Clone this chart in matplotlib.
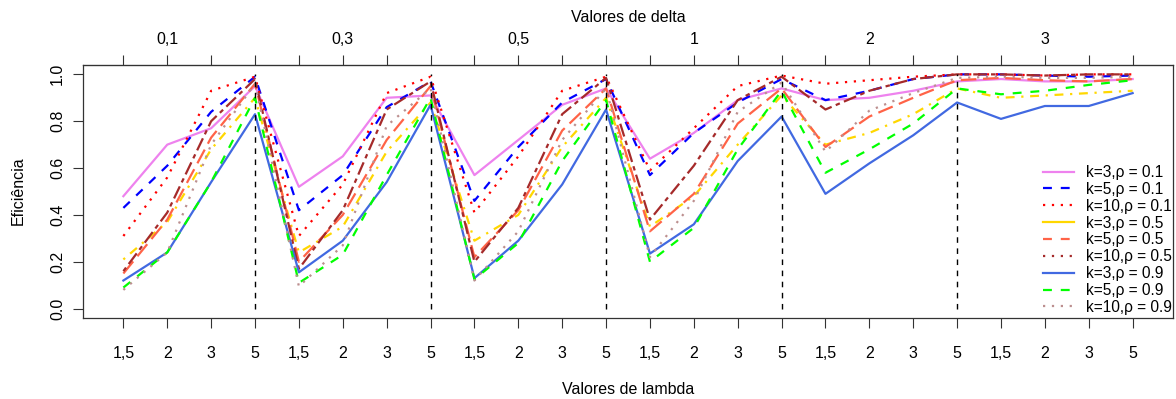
import matplotlib.pyplot as plt
from matplotlib.lines import Line2D
import numpy as np

plt.rcParams['font.family'] = ['Liberation Sans', 'DejaVu Sans']

# x axis: 6 delta groups, 4 lambda values each
lambda_labels = ["1,5", "2", "3", "5"] * 6
delta_labels = ["0,1", "0,3", "0,5", "1", "2", "3"]

series_labels = ["k=3,ρ = 0.1", "k=5,ρ = 0.1", "k=10,ρ = 0.1",
                 "k=3,ρ = 0.5", "k=5,ρ = 0.5", "k=10,ρ = 0.5",
                 "k=3,ρ = 0.9", "k=5,ρ = 0.9", "k=10,ρ = 0.9"]

k3_r01 = [0.48, 0.70, 0.77, 0.95, 0.52, 0.65, 0.90, 0.91, 0.57, 0.72, 0.87, 0.94,
          0.64, 0.75, 0.89, 0.94, 0.89, 0.90, 0.93, 0.97, 0.98, 0.97, 0.97, 0.98]
k5_r01 = [0.43, 0.61, 0.84, 0.99, 0.42, 0.57, 0.86, 0.97, 0.46, 0.69, 0.88, 0.98,
          0.57, 0.75, 0.88, 0.98, 0.89, 0.93, 0.98, 1.00, 1.00, 0.995, 0.99, 0.995]
k10_r01 = [0.31, 0.56, 0.93, 0.99, 0.31, 0.53, 0.92, 0.99, 0.41, 0.65, 0.93, 0.99,
           0.59, 0.77, 0.95, 0.995, 0.96, 0.975, 0.99, 1.00, 1.00, 0.995, 1.00, 1.00]
k3_r05 = [0.21, 0.37, 0.68, 0.90, 0.24, 0.35, 0.67, 0.88, 0.29, 0.40, 0.69, 0.90,
          0.35, 0.48, 0.70, 0.91, 0.70, 0.75, 0.83, 0.94, 0.90, 0.91, 0.92, 0.93]
k5_r05 = [0.15, 0.38, 0.73, 0.96, 0.20, 0.40, 0.72, 0.95, 0.22, 0.42, 0.76, 0.94,
          0.33, 0.49, 0.79, 0.94, 0.69, 0.82, 0.90, 0.975, 0.985, 0.975, 0.97, 0.98]
k10_r05 = [0.16, 0.41, 0.80, 0.98, 0.17, 0.42, 0.85, 0.97, 0.20, 0.43, 0.83, 0.985,
           0.38, 0.61, 0.89, 0.99, 0.85, 0.93, 0.98, 1.00, 1.00, 0.995, 1.00, 1.00]
k3_r09 = [0.12, 0.24, 0.54, 0.83, 0.155, 0.29, 0.54, 0.87, 0.13, 0.29, 0.53, 0.85,
          0.235, 0.36, 0.63, 0.82, 0.49, 0.62, 0.74, 0.88, 0.81, 0.865, 0.865, 0.92]
k5_r09 = [0.09, 0.24, 0.54, 0.90, 0.11, 0.23, 0.57, 0.90, 0.125, 0.28, 0.63, 0.89,
          0.20, 0.345, 0.68, 0.93, 0.58, 0.68, 0.79, 0.94, 0.915, 0.93, 0.955, 0.975]
k10_r09 = [0.08, 0.24, 0.70, 0.96, 0.095, 0.27, 0.78, 0.94, 0.12, 0.33, 0.72, 0.94,
           0.22, 0.46, 0.84, 0.965, 0.67, 0.845, 0.92, 0.985, 0.99, 0.985, 0.985, 0.99]

all_series = [k3_r01, k5_r01, k10_r01, k3_r05, k5_r05, k10_r05, k3_r09, k5_r09, k10_r09]
colors = ["violet", "blue", "red", "gold", "tomato", "brown", "royalblue", "lime", "rosybrown"]

# R lty 1..6 cycle in the plot, 1..3 cycle in the legend
r_lty = {1: "-", 2: (0, (4, 4)), 3: (0, (1, 3)), 4: (0, (1, 3, 4, 3)),
         5: (0, (7, 3)), 6: (0, (2, 2, 6, 2))}
plot_lty = [1, 2, 3, 4, 5, 6, 1, 2, 3]
legend_lty = [1, 2, 3, 1, 2, 3, 1, 2, 3]

x = np.arange(1, 25)

fig = plt.figure(figsize=(11.76, 3.99), dpi=100)
ax = fig.add_axes([83 / 1176, 81 / 399, 1090 / 1176, 253 / 399])

for vals, col, lt in zip(all_series, colors, plot_lty):
    ax.plot(x, vals, color=col, lw=1.6, linestyle=r_lty[lt])

ax.vlines([4, 8, 12, 16, 20], 0, 1, colors="black", linestyles=(0, (4, 4)), lw=1)

ax.set_xlim(0.08, 24.92)
ax.set_ylim(-0.04, 1.04)

for s in ax.spines.values():
    s.set_color("#333333")
    s.set_linewidth(0.9)

ax.set_xticks(x, labels=lambda_labels)
ax.tick_params(axis="x", length=7, pad=13, labelsize=11.5, color="#333333")
yt = [0.0, 0.2, 0.4, 0.6, 0.8, 1.0]
ax.set_yticks(yt, labels=[f"{v:.1f}" for v in yt])
ax.tick_params(axis="y", length=7, pad=6, labelsize=11.5, color="#333333")
for lab in ax.get_yticklabels():
    lab.set_rotation(90)
    lab.set_va("center")

top_labels = []
for i in range(24):
    top_labels.append(delta_labels[i // 4] if i % 4 == 1 else "")
secax = ax.secondary_xaxis("top")
secax.set_xticks(x, labels=top_labels)
secax.tick_params(length=7, pad=6, labelsize=11.5, color="#333333")
secax.spines["top"].set_color("#333333")

fig.text(628 / 1176, 1 - 17 / 399, "Valores de delta", ha="center", va="center", fontsize=11.5)
fig.text(628 / 1176, 1 - 390 / 399, "Valores de lambda", ha="center", va="center", fontsize=11.5)
fig.text(18 / 1176, 1 - 191 / 399, "Eficiência", ha="center", va="center",
         rotation=90, fontsize=11.5)

handles = [Line2D([0], [0], color=c, lw=1.6, linestyle=r_lty[lt])
           for c, lt in zip(colors, legend_lty)]
fig.legend(handles, series_labels, loc="upper right",
           bbox_to_anchor=(1172 / 1176, 1 - 165 / 399), frameon=False,
           fontsize=11.2, labelspacing=0.12, handlelength=2.0, handletextpad=0.8,
           borderpad=0, borderaxespad=0)

fig.savefig("out.png", dpi=100)
